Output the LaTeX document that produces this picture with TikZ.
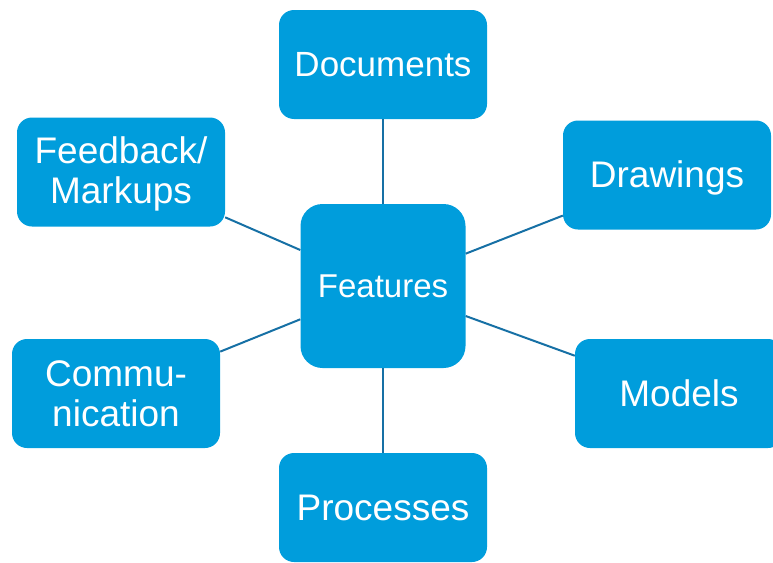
\documentclass[tikz,border=0pt]{standalone}
\usepackage{fontspec}
\setmainfont{Liberation Sans}
\definecolor{boxblue}{RGB}{0,157,220}
\definecolor{lineblue}{RGB}{22,112,165}
\newcommand{\lowered}[2]{\raisebox{-#1}[\height][\depth]{#2}}
\begin{document}
\begin{tikzpicture}[x=1pt,y=-1pt,
  leaf/.style={fill=boxblue,draw=none,rounded corners=15pt,minimum width=208pt,minimum height=109pt,
    inner sep=0pt,text=white,align=center,font=\fontsize{37}{40}\selectfont},
  hub/.style={fill=boxblue,draw=none,rounded corners=22pt,minimum width=165pt,minimum height=164pt,
    inner sep=0pt,text=white,align=center,font=\fontsize{33}{38}\selectfont},
  link/.style={draw=lineblue,line width=2pt}]
\useasboundingbox (0,0) rectangle (773,562);
\node[hub] (feat) at (383,286) {Features};
\node[leaf] (doc) at (383,64.5) {\fontsize{35}{40}\selectfont Documents};
\node[leaf] (draw) at (667,175) {\lowered{3pt}{Drawings}};
\node[leaf] (feed) at (121,172) {\lowered{3pt}{\begin{tabular}{@{}c@{}}Feedback/\\Markups\end{tabular}}};
\node[leaf] (comm) at (116,393.5) {Commu-\\nication};
\node[leaf] (mod) at (679,393.5) {Models};
\node[leaf] (proc) at (383,507.5) {Processes};
\foreach \n in {doc,draw,feed,comm,mod,proc} \draw[link] (feat) -- (\n);
\end{tikzpicture}
\end{document}
